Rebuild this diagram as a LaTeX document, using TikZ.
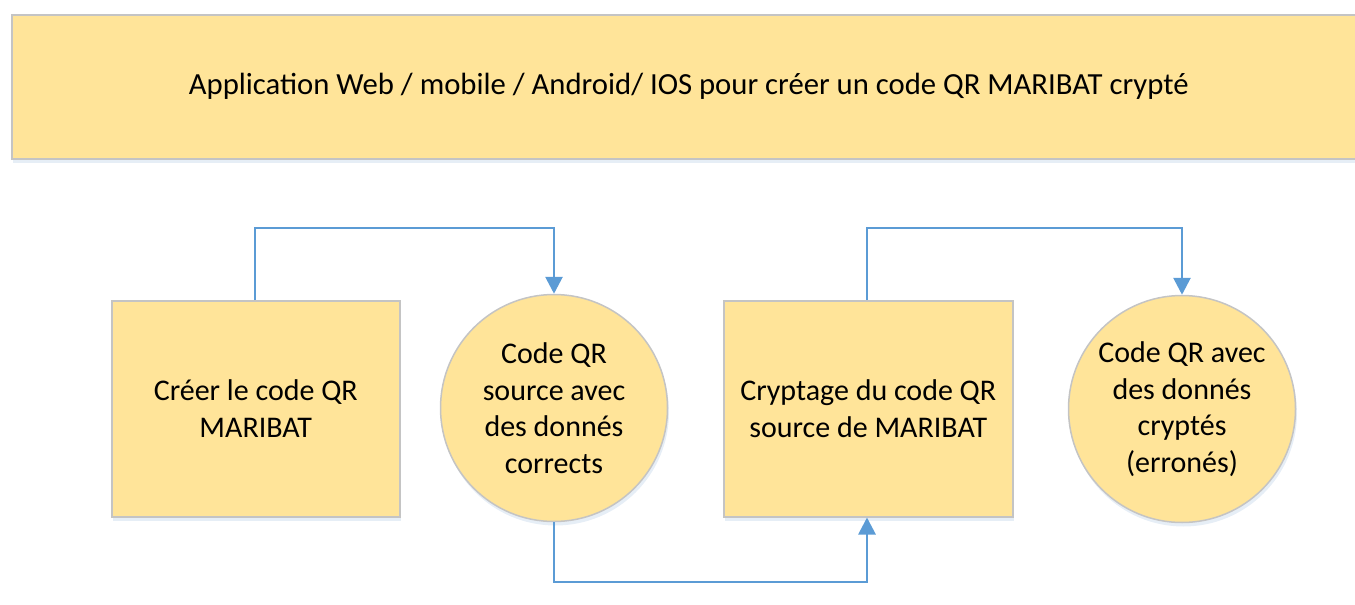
\documentclass[tikz,border=0pt]{standalone}
\usepackage{fontspec}
\setmainfont{Carlito}
\usetikzlibrary{arrows.meta,shadows}
\definecolor{fillY}{HTML}{FFE499}
\definecolor{edgeG}{HTML}{C4C4C4}
\definecolor{lineB}{HTML}{5B9BD5}
\definecolor{shadowB}{HTML}{D6E2F0}
\tikzset{
  shape base/.style={fill=fillY, draw=edgeG, line width=1.5pt,
    drop shadow={shadow xshift=1.5pt, shadow yshift=-4pt, fill=shadowB, opacity=0.6}},
  rectbox/.style={shape base, rectangle, inner sep=0pt, align=center, font=\fontsize{30}{36.6}\selectfont},
  roundbox/.style={shape base, circle, inner sep=0pt, minimum size=227pt, align=center, font=\fontsize{30}{36.6}\selectfont},
  conn/.style={draw=lineB, line width=2.8pt, -{Triangle[length=17pt,width=17pt]}}
}
\begin{document}
\begin{tikzpicture}[x=1pt,y=-1pt]
\useasboundingbox (0,0) rectangle (1355,605);
\node[rectbox, minimum width=1354pt, minimum height=144pt, anchor=north west, font=\fontsize{30.7}{36.6}\selectfont] (banner) at (11,14)
  {Application Web / mobile / Android/ IOS pour créer un code QR MARIBAT crypté};
\node[rectbox, minimum width=288pt, minimum height=216pt, anchor=north west] (b1) at (111,300) {Créer le code QR\\MARIBAT};
\node[roundbox] (c1) at (554,408) {Code QR\\source avec\\des donnés\\corrects};
\node[rectbox, minimum width=289pt, minimum height=216pt, anchor=north west] (b2) at (723,300) {Cryptage du code QR\\source de MARIBAT};
\node[roundbox] (c2) at (1182,409) {Code QR avec\\des donnés\\cryptés\\(erronés)};
\coordinate (k1) at (255,228);
\coordinate (k2) at (867,228);
\coordinate (k3) at (554,582);
\draw[conn] (b1.north -| k1) -- (k1) -| (c1.north);
\draw[conn] (b2.north -| k2) -- (k2) -| (c2.north);
\draw[conn] (c1.south) |- (k3) -| (b2.south -| k2);
\end{tikzpicture}
\end{document}
